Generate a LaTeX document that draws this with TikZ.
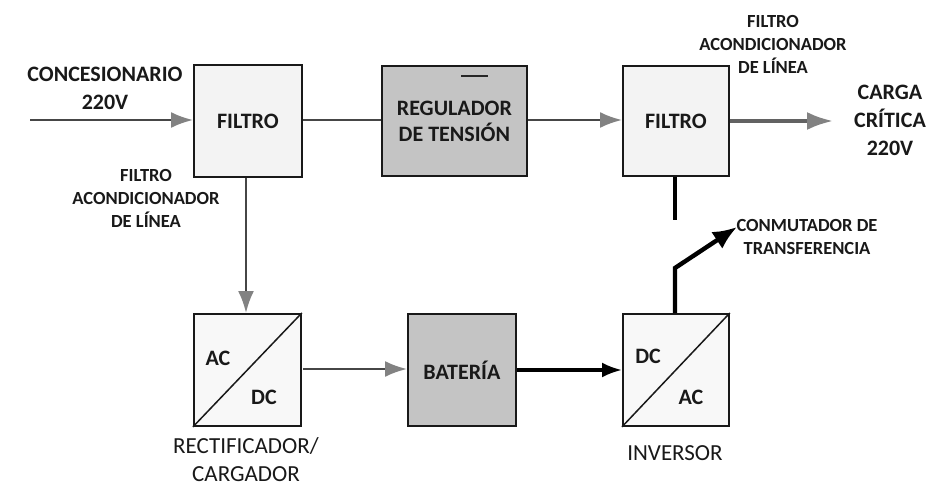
\documentclass[tikz,border=0pt]{standalone}
\usepackage{fontspec}
\setmainfont{Carlito}
\usetikzlibrary{arrows.meta}
\definecolor{boxlight}{RGB}{243,243,243}
\definecolor{boxdark}{RGB}{196,196,196}
\definecolor{convfill}{RGB}{248,248,248}
\definecolor{lineg}{RGB}{70,70,70}
\definecolor{headg}{RGB}{130,130,130}
\definecolor{txt}{RGB}{25,25,25}
\tikzset{
  blk/.style={draw=black!90, line width=1.8pt, inner sep=0pt},
  lbig/.style={font=\fontsize{23}{28}\selectfont, align=center, text=txt},
  lbigb/.style={font=\fontsize{22}{28}\selectfont\bfseries, align=center, text=txt},
  lbold/.style={font=\fontsize{22}{26}\selectfont\bfseries, align=center, text=txt},
  lsmall/.style={font=\fontsize{18.5}{23}\selectfont\bfseries, align=center, text=txt},
  garrow/.style={draw=lineg, line width=2.4pt, -{Latex[length=22pt,width=16pt,fill=headg,color=headg]}},
  gline/.style={draw=lineg, line width=2.4pt},
  barrow/.style={draw=black, line width=3.2pt, -{Latex[length=20pt,width=15pt]}},
}
\begin{document}
\begin{tikzpicture}[x=1pt,y=-1pt]
\useasboundingbox[fill=white] (0,0) rectangle (933,497);
% boxes
\node[blk, fill=boxlight, minimum width=108pt, minimum height=112pt, anchor=north west] (f1) at (193,64) {};
\node[lbold] at (f1.center) {FILTRO};
\node[blk, fill=boxdark, minimum width=145pt, minimum height=110pt, anchor=north west] (reg) at (381,65) {};
\node[lbold] (regt) at ([yshift=0pt]reg.center) {REGULADOR\\DE TENSIÓN};
\draw[line width=1.6pt, black!85] ([xshift=80pt,yshift=-11pt]reg.north west) coordinate (m1) -- ++(27,0) coordinate (m2);
\node[blk, fill=boxlight, minimum width=106pt, minimum height=110pt, anchor=north west] (f2) at (622,65) {};
\node[lbold] at (f2.center) {FILTRO};
\node[blk, fill=convfill, minimum width=107pt, minimum height=112pt, anchor=north west] (rect) at (193,313) {};
\draw[line width=1.5pt, black!90] (rect.south west) -- (rect.north east);
\node[lbold] at (218,358) {AC};
\node[lbold] at (264,397) {DC};
\node[blk, fill=boxdark, minimum width=108pt, minimum height=112pt, anchor=north west] (bat) at (407,313) {};
\node[lbold] at (bat.center) {BATERÍA};
\node[blk, fill=convfill, minimum width=106pt, minimum height=112pt, anchor=north west] (inv) at (622,313) {};
\draw[line width=1.5pt, black!90] (inv.south west) -- (inv.north east);
\node[lbold] at (648,356) {DC};
\node[lbold] at (691,397) {AC};
% labels
\node[lbigb] (conc) at (105,88) {CONCESIONARIO\\220V};
\node[lsmall] (lf1) at (146,198) {FILTRO\\ACONDICIONADOR\\DE LÍNEA};
\node[lsmall] (lf2) at (773,44) {FILTRO\\ACONDICIONADOR\\DE LÍNEA};
\node[lbigb] (carga) at (890,120) {CARGA\\CRÍTICA\\220V};
\node[lsmall] (conm) at (807,237) {CONMUTADOR DE\\TRANSFERENCIA};
\node[lbig] (rlab) at (246,460) {RECTIFICADOR/\\CARGADOR};
\node[lbig] (ilab) at (675,453) {INVERSOR};
% connectors
\coordinate (in0) at (30,120);
\draw[garrow] (in0) -- (in0 -| f1.west);
\draw[gline] (f1.east |- 0,120) -- (reg.west |- 0,120);
\draw[garrow] (reg.east |- 0,120) -- (f2.west |- 0,120);
\coordinate (out0) at (833,121);
\draw[draw=lineg!85, line width=3.6pt, -{Latex[length=26pt,width=18pt,fill=headg,color=headg]}] (f2.east |- out0) -- (out0);
\draw[garrow] (f1.south -| 246,0) -- (rect.north -| 246,0);
\draw[garrow] (303,369) -- (bat.west |- 0,369);
\draw[barrow] (bat.east |- 0,370) -- (inv.west |- 0,370);
\coordinate (stub) at (675,220);
\draw[line width=4pt] (f2.south -| stub) -- (stub);
\coordinate (bend) at (675,268);
\coordinate (tip) at (737,227);
\draw[line width=4.4pt, -{Latex[length=24pt,width=20pt]}] (inv.north -| bend) -- (bend) -- (tip);
\end{tikzpicture}
\end{document}
